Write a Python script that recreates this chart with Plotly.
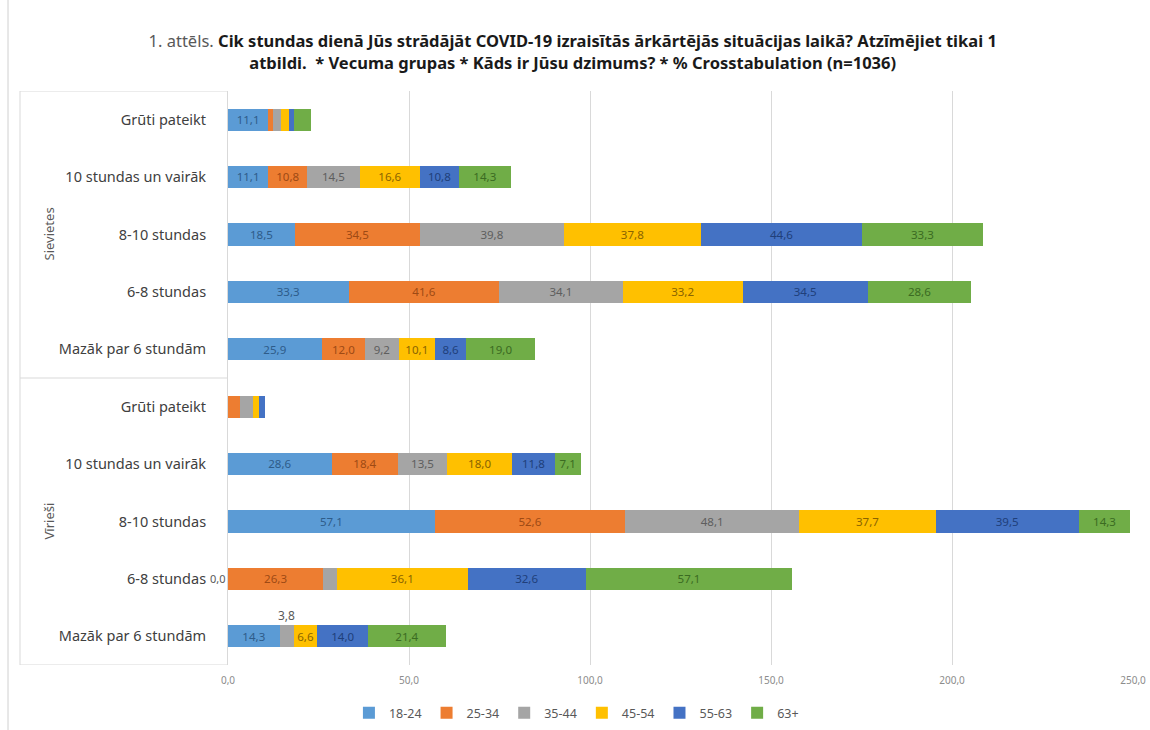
import plotly.graph_objects as go

# Categories (top to bottom): gender group + working hours
groups = ["Sievietes"] * 5 + ["Vīrieši"] * 5
hours = ["Grūti pateikt", "10 stundas un vairāk", "8-10 stundas", "6-8 stundas", "Mazāk par 6 stundām"] * 2

age_groups = ["18-24", "25-34", "35-44", "45-54", "55-63", "63+"]

v_18_24 = [11.1, 11.1, 18.5, 33.3, 25.9, None, 28.6, 57.1, 0.0, 14.3]
v_25_34 = [1.2, 10.8, 34.5, 41.6, 12.0, 3.3, 18.4, 52.6, 26.3, None]
v_35_44 = [2.4, 14.5, 39.8, 34.1, 9.2, 3.7, 13.5, 48.1, 3.8, 3.8]
v_45_54 = [2.2, 16.6, 37.8, 33.2, 10.1, 1.6, 18.0, 37.7, 36.1, 6.6]
v_55_63 = [1.2, 10.8, 44.6, 34.5, 8.6, 1.5, 11.8, 39.5, 32.6, 14.0]
v_63p = [4.8, 14.3, 33.3, 28.6, 19.0, None, 7.1, 14.3, 57.1, 21.4]

series = [v_18_24, v_25_34, v_35_44, v_45_54, v_55_63, v_63p]
colors = ["#5B9BD5", "#ED7D31", "#A5A5A5", "#FFC000", "#4472C4", "#70AD47"]
label_colors = ["#2E5C8A", "#9E4A14", "#5E5E5E", "#8A6400", "#203F7A", "#3B6B22"]

keys = [f"{g}|{h}" for g, h in zip(groups, hours)]

FONT = "Noto Sans, Open Sans, Liberation Sans, sans-serif"

fig = go.Figure()
for name, vals, col, lcol in zip(age_groups, series, colors, label_colors):
    fig.add_trace(go.Bar(
        y=keys, x=vals, name=name, orientation="h",
        marker=dict(color=col, line=dict(width=0)),
        texttemplate="%{x:.1f}", textposition="inside",
        insidetextanchor="middle", textangle=0,
        textfont=dict(color=lcol, size=12, family=FONT),
        hoverinfo="skip",
    ))

# Labels of segments too narrow for inside text (Vīrieši 6-8 / Mazāk)
i68 = keys.index("Vīrieši|6-8 stundas")
fig.add_annotation(x=0, y=keys[i68], xref="x", yref="y", text=f"{v_18_24[i68]:.1f}".replace(".", ","),
                   showarrow=False, xanchor="right", xshift=0,
                   font=dict(size=11, color="#595959", family=FONT))
imz = keys.index("Vīrieši|Mazāk par 6 stundām")
mid = v_18_24[imz] + v_35_44[imz] / 2
fig.add_annotation(x=mid, y=keys[imz], xref="x", yref="y", text=f"{v_35_44[imz]:.1f}".replace(".", ","),
                   showarrow=False, yshift=21,
                   font=dict(size=12, color="#595959", family=FONT))

# Group labels and dividers of the category axis
L, R, T, B = 228, 17, 91, 65
W = 1150 - L - R
def px(x):
    return (x - L) / W

for g, c in [("Sievietes", 2), ("Vīrieši", 7)]:
    fig.add_annotation(x=px(37), y=c, xref="paper", yref="y", text=g, textangle=-90,
                       showarrow=False, font=dict(size=13, color="#595959", family=FONT))

for yv in [-0.5, 4.5, 9.5]:
    fig.add_shape(type="line", xref="paper", yref="y", x0=px(20), x1=0, y0=yv, y1=yv,
                  line=dict(color="#D9D9D9", width=1))
fig.add_shape(type="line", xref="paper", yref="y", x0=px(20), x1=px(20), y0=-0.5, y1=9.5,
                  line=dict(color="#D9D9D9", width=1))
# chart frame edge
fig.add_shape(type="line", xref="paper", yref="paper", x0=px(8), x1=px(8), y0=-B / 574, y1=1 + T / 574,
              line=dict(color="#D0D0D0", width=1))

fig.update_layout(
    width=1150, height=730,
    margin=dict(l=L, r=R, t=T, b=B, autoexpand=False),
    barmode="stack", bargap=0.61,
    separators=", ",
    paper_bgcolor="white", plot_bgcolor="white",
    font=dict(family=FONT, color="#595959", size=12),
    uniformtext=dict(minsize=10, mode="hide"),
    title=dict(
        text="1. attēls. <b><span style='color:#1a1a1a'>Cik stundas dienā Jūs strādājāt COVID-19 izraisītās ārkārtējās situācijas laikā? Atzīmējiet tikai 1</span></b><br>"
             "<b><span style='color:#1a1a1a'>atbildi.  * Vecuma grupas * Kāds ir Jūsu dzimums? * % Crosstabulation (n=1036)</span></b>",
        x=0.498, xanchor="center", xref="container", y=0.935, yanchor="top", yref="container",
        font=dict(size=16.5, color="#595959", family=FONT),
    ),
    xaxis=dict(range=[0, 250], dtick=50, tickformat=".1f", showgrid=True, gridcolor="#D9D9D9",
               zeroline=False, showline=False, ticks="", ticklabelstandoff=8,
               tickfont=dict(size=10, color="#8C8C8C")),
    yaxis=dict(categoryorder="array", categoryarray=keys, range=[9.5, -0.5],
               tickvals=keys, ticktext=hours, showline=True, linecolor="#D9D9D9",
               ticks="", ticklen=0, ticklabelstandoff=18,
               tickfont=dict(size=14.5, color="#404040"), showgrid=False),
    legend=dict(orientation="h", x=0.385, xanchor="center", y=0.023, yanchor="middle",
                yref="container",
                font=dict(size=12.5, color="#595959"), itemwidth=30, traceorder="normal"),
)

fig.write_html("out.html")
